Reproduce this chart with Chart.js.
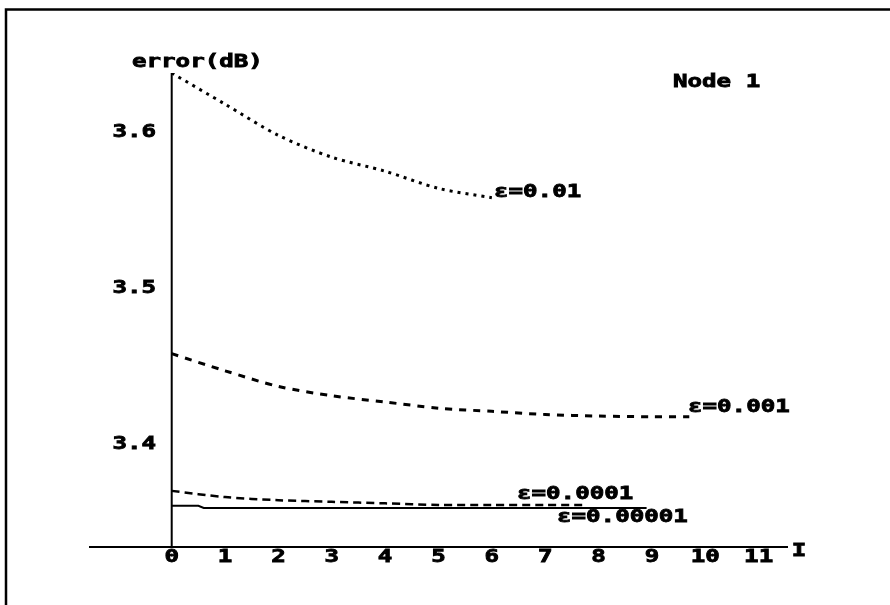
<!DOCTYPE html>
<html>
<head>
<meta charset="utf-8">
<script src="https://cdn.jsdelivr.net/npm/chart.js@4"></script>
<style>
  html, body { margin: 0; padding: 0; background: #fff; }
  #wrap { width: 890px; height: 605px; }
</style>
</head>
<body>
<div id="wrap"><canvas id="errChart" width="890" height="605"></canvas></div>
<script>
// values
const xTicks = [0, 1, 2, 3, 4, 5, 6, 7, 8, 9, 10, 11];
const yTicks = [3.4, 3.5, 3.6];

const x01 = [0, 1, 2, 3, 4, 5, 6];
const e01 = [3.638, 3.618, 3.598, 3.584, 3.575, 3.564, 3.558];

const x001 = [0, 1, 2, 3, 4, 5, 6, 7, 8, 9, 9.7];
const e001 = [3.458, 3.447, 3.437, 3.431, 3.427, 3.423, 3.421, 3.419, 3.418, 3.4175, 3.4175];

const x0001 = [0, 1, 2, 3, 4, 5, 6, 7, 7.7];
const e0001 = [3.370, 3.366, 3.364, 3.363, 3.362, 3.361, 3.361, 3.361, 3.361];

const x00001 = [0, 0.5, 0.6, 3, 6, 8.9];
const e00001 = [3.3604, 3.3604, 3.359, 3.359, 3.359, 3.359];

const seriesNames = ["ε=0.01", "ε=0.001", "ε=0.0001", "ε=0.00001"];

const toPts = (xs, ys) => xs.map((x, i) => ({ x: x, y: ys[i] }));

// old plotter look: wide, heavy monospace
const FONT = 'bold 17px "DejaVu Sans Mono"';
const STRETCH = 1.42;

function wideText(ctx, text, x, y, align) {
  ctx.save();
  ctx.font = FONT;
  ctx.textBaseline = "middle";
  ctx.textAlign = "left";
  const w = ctx.measureText(text).width * STRETCH;
  let left = x;
  if (align === "center") left = x - w / 2;
  if (align === "right") left = x - w;
  ctx.translate(left, y);
  ctx.scale(STRETCH, 1);
  ctx.fillStyle = "#000";
  ctx.strokeStyle = "#000";
  ctx.lineWidth = 0.8;
  ctx.fillText(text, 0, 0);
  ctx.strokeText(text, 0, 0);
  ctx.restore();
}

const axesPlugin = {
  id: "oldAxes",
  afterDraw(chart) {
    const ctx = chart.ctx;
    const xs = chart.scales.x;
    const ys = chart.scales.y;
    const area = chart.chartArea;
    const x0 = xs.getPixelForValue(0);

    ctx.save();
    ctx.strokeStyle = "#000";
    // page frame (top and left)
    ctx.lineWidth = 2.5;
    ctx.beginPath();
    ctx.moveTo(890, 9.5);
    ctx.lineTo(6, 9.5);
    ctx.lineTo(6, 605);
    ctx.stroke();

    // axes
    ctx.lineWidth = 2;
    ctx.beginPath();
    ctx.moveTo(x0, area.top);
    ctx.lineTo(x0, area.bottom);
    ctx.moveTo(area.left, area.bottom);
    ctx.lineTo(area.right, area.bottom);
    ctx.stroke();
    ctx.restore();

    xTicks.forEach((t) => wideText(ctx, String(t), xs.getPixelForValue(t), area.bottom + 11, "center"));
    yTicks.forEach((t) => wideText(ctx, t.toFixed(1), 156, ys.getPixelForValue(t), "right"));

    wideText(ctx, "error(dB)", 132, 63, "left");
    wideText(ctx, "I", area.right + 11, area.bottom + 5, "center");
    wideText(ctx, "Node 1", 673, 83, "left");

    wideText(ctx, seriesNames[0], 494, 193, "left");
    wideText(ctx, seriesNames[1], 688, 408, "left");
    wideText(ctx, seriesNames[2], 517, 495, "left");
    wideText(ctx, seriesNames[3], 557, 518, "left");
  },
};

new Chart(document.getElementById("errChart"), {
  type: "line",
  data: {
    datasets: [
      {
        label: seriesNames[0],
        data: toPts(x01, e01),
        borderColor: "#000",
        borderWidth: 3,
        borderDash: [3, 5],
        tension: 0.3,
      },
      {
        label: seriesNames[1],
        data: toPts(x001, e001),
        borderColor: "#000",
        borderWidth: 3,
        borderDash: [7, 7],
        tension: 0.3,
      },
      {
        label: seriesNames[2],
        data: toPts(x0001, e0001),
        borderColor: "#000",
        borderWidth: 2.5,
        borderDash: [8, 5],
        tension: 0.3,
      },
      {
        label: seriesNames[3],
        data: toPts(x00001, e00001),
        borderColor: "#000",
        borderWidth: 2,
        tension: 0,
      },
    ],
  },
  options: {
    responsive: false,
    animation: false,
    events: [],
    layout: { padding: { left: 89, right: 102, top: 73, bottom: 58 } },
    elements: { point: { radius: 0 } },
    plugins: { legend: { display: false }, tooltip: { enabled: false } },
    scales: {
      x: { type: "linear", min: -1.55, max: 11.55, display: false },
      y: { type: "linear", min: 3.334, max: 3.638, display: false },
    },
  },
  plugins: [axesPlugin],
});
</script>
</body>
</html>
